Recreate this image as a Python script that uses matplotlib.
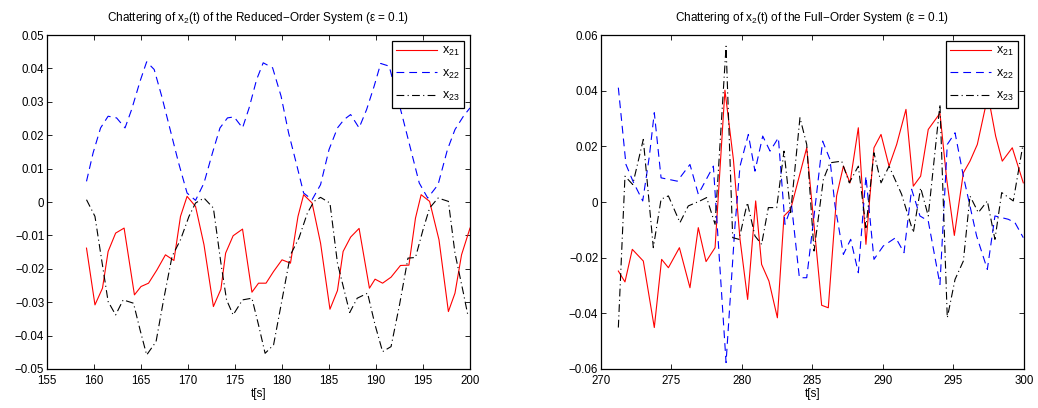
import matplotlib.pyplot as plt

plt.rcParams['font.family'] = ['Liberation Sans', 'DejaVu Sans']
plt.rcParams['mathtext.fontset'] = 'custom'
plt.rcParams['mathtext.rm'] = 'Liberation Sans'
plt.rcParams['mathtext.it'] = 'Liberation Sans'

# ---- reduced-order system (left) ----
red_t1 = [159.2, 160.1, 160.9, 161.5, 162.3, 163.2, 164.3, 165.0, 165.8, 166.7, 167.6, 168.5,
          169.2, 169.9, 170.8, 171.7, 172.7, 173.5, 174.0, 174.8, 175.8, 176.8, 177.5, 178.3,
          179.1, 180.0, 180.9, 181.7, 182.3, 183.2, 184.1, 185.1, 185.9, 186.5, 187.3, 188.2,
          189.3, 189.9, 190.7, 191.6, 192.6, 193.5, 194.2, 194.8, 195.7, 196.7, 197.7, 198.4,
          199.1, 200.0]
red_v1 = [-0.0138, -0.0308, -0.0258, -0.0148, -0.0093, -0.0078, -0.0278, -0.0253, -0.0243,
          -0.0203, -0.0158, -0.0175, -0.0043, 0.0017, -0.0013, -0.0128, -0.0313, -0.0261,
          -0.0153, -0.0101, -0.0081, -0.0270, -0.0243, -0.0243, -0.0208, -0.0173, -0.0183,
          -0.0043, 0.0022, -0.0003, -0.0123, -0.0321, -0.0265, -0.0148, -0.0105, -0.0079,
          -0.0258, -0.0231, -0.0243, -0.0225, -0.0190, -0.0189, -0.0048, 0.0022, 0.0002,
          -0.0113, -0.0328, -0.0273, -0.0158, -0.0078]

blue_t1 = [159.2, 159.9, 160.7, 161.5, 162.4, 163.3, 164.0, 164.9, 165.6, 166.4, 167.2, 168.1,
           169.0, 169.9, 170.8, 171.7, 172.6, 173.4, 174.2, 174.9, 175.8, 176.5, 177.3, 178.0,
           179.0, 179.9, 180.7, 181.6, 182.3, 183.2, 184.1, 185.0, 185.9, 186.6, 187.3, 188.2,
           189.0, 189.8, 190.5, 191.4, 192.8, 193.7, 194.6, 195.5, 196.6, 197.6, 198.4, 199.3,
           200.0]
blue_v1 = [0.0062, 0.0147, 0.0222, 0.0257, 0.0252, 0.0222, 0.0277, 0.0362, 0.0420, 0.0397,
           0.0317, 0.0217, 0.0117, 0.0027, 0.0005, 0.0057, 0.0147, 0.0222, 0.0252, 0.0255,
           0.0222, 0.0282, 0.0367, 0.0417, 0.0402, 0.0317, 0.0207, 0.0107, 0.0027, 0.0007,
           0.0052, 0.0157, 0.0222, 0.0247, 0.0262, 0.0222, 0.0277, 0.0347, 0.0415, 0.0407,
           0.0257, 0.0157, 0.0057, 0.0012, 0.0052, 0.0157, 0.0217, 0.0257, 0.0282]

black_t1 = [159.2, 160.1, 160.7, 161.5, 162.3, 163.1, 164.2, 164.9, 165.6, 166.6, 167.4, 168.3,
            169.2, 170.1, 170.8, 171.7, 172.7, 173.5, 174.1, 174.8, 175.8, 176.8, 177.5, 178.2,
            179.1, 180.0, 180.9, 181.8, 182.7, 183.4, 184.1, 185.1, 185.9, 187.2, 188.0, 189.1,
            189.9, 190.7, 191.6, 192.5, 193.4, 194.2, 195.0, 195.7, 196.6, 197.7, 198.4, 199.3,
            199.8]
black_v1 = [0.0007, -0.0043, -0.0153, -0.0298, -0.0338, -0.0293, -0.0303, -0.0383, -0.0458,
            -0.0418, -0.0293, -0.0163, -0.0113, -0.0043, -0.0003, 0.0012, -0.0018, -0.0183,
            -0.0293, -0.0338, -0.0293, -0.0288, -0.0368, -0.0453, -0.0428, -0.0293, -0.0158,
            -0.0108, -0.0033, 0.0002, 0.0014, -0.0003, -0.0183, -0.0331, -0.0288, -0.0273,
            -0.0368, -0.0448, -0.0433, -0.0308, -0.0168, -0.0166, -0.0083, -0.0018, 0.0012,
            0.0002, -0.0153, -0.0273, -0.0343]

# ---- full-order system (right) ----
red_t2 = [271.23, 271.70, 272.22, 273.00, 273.78, 274.30, 274.78, 275.56, 276.31, 276.90,
          277.45, 278.09, 278.79, 279.39, 279.86, 280.40, 280.97, 281.39, 281.91, 282.51,
          282.98, 283.45, 284.59, 285.65, 286.12, 286.71, 287.19, 287.66, 288.25, 288.79,
          289.36, 289.86, 290.43, 290.97, 291.63, 292.15, 292.67, 293.21, 294.04, 294.52,
          295.06, 295.70, 296.17, 296.69, 297.23, 297.50, 297.99, 298.46, 299.17, 299.95]
red_v2 = [-0.0248, -0.0287, -0.0170, -0.0212, -0.0451, -0.0206, -0.0236, -0.0164, -0.0308,
          -0.0092, -0.0214, -0.0164, 0.0402, 0.0153, -0.0134, -0.0350, 0.0004, -0.0224,
          -0.0284, -0.0416, -0.0050, -0.0026, 0.0195, -0.0371, -0.0380, 0.0022, 0.0129,
          0.0069, 0.0267, -0.0152, 0.0195, 0.0243, 0.0129, 0.0207, 0.0333, 0.0057, 0.0093,
          0.0261, 0.0319, 0.0081, -0.0120, 0.0105, 0.0147, 0.0207, 0.0333, 0.0370, 0.0237,
          0.0147, 0.0195, 0.0069]

blue_t2 = [271.23, 271.77, 272.29, 272.96, 273.43, 273.78, 274.26, 275.41, 276.31, 276.90,
           277.97, 278.87, 279.50, 279.86, 280.45, 280.92, 281.47, 281.99, 282.58, 283.05,
           283.52, 284.07, 284.59, 285.11, 285.72, 286.24, 286.60, 287.19, 287.71, 288.25,
           288.79, 289.36, 290.02, 290.90, 291.49, 292.03, 292.62, 293.21, 294.04, 294.56,
           295.11, 295.70, 296.64, 297.40, 297.94, 298.89, 299.36, 299.95]
blue_v2 = [0.0411, 0.0135, 0.0072, 0.0004, 0.0165, 0.0321, 0.0087, 0.0075, 0.0135, 0.0028,
           0.0129, -0.0577, -0.0086, 0.0129, 0.0243, 0.0111, 0.0237, 0.0183, 0.0231, -0.0080,
           -0.0014, -0.0272, -0.0272, -0.0050, 0.0219, 0.0153, -0.0014, -0.0188, -0.0134,
           -0.0254, 0.0093, -0.0206, -0.0158, -0.0128, -0.0182, 0.0046, -0.0050, -0.0068,
           -0.0296, 0.0207, 0.0249, 0.0093, -0.0122, -0.0242, -0.0050, -0.0062, -0.0074,
           -0.0128]

black_t2 = [271.23, 271.70, 272.25, 273.00, 273.71, 274.26, 274.78, 275.60, 276.19, 277.02,
            277.49, 278.09, 278.87, 279.34, 279.79, 280.38, 280.92, 281.39, 281.87, 282.46,
            282.98, 283.45, 284.11, 284.59, 285.11, 285.77, 286.24, 287.07, 287.61, 288.25,
            288.79, 289.36, 289.86, 290.43, 291.32, 292.15, 292.67, 293.21, 294.04, 294.56,
            295.11, 295.70, 296.17, 296.76, 297.40, 297.94, 298.42, 299.24, 299.91]
black_v2 = [-0.0451, 0.0093, 0.0063, 0.0225, -0.0164, 0.0010, 0.0022, -0.0074, -0.0014,
            0.0004, 0.0016, -0.0080, 0.0560, -0.0128, -0.0134, -0.0002, -0.0122, -0.0152,
            -0.0020, -0.0020, 0.0183, -0.0038, 0.0303, 0.0207, -0.0176, 0.0081, 0.0141,
            0.0147, 0.0069, 0.0129, -0.0092, 0.0177, 0.0069, 0.0129, 0.0028, -0.0110, 0.0051,
            -0.0050, 0.0351, -0.0416, -0.0278, -0.0212, 0.0022, -0.0038, 0.0004, -0.0134,
            0.0034, 0.0004, 0.0201]

left_xticks = list(range(155, 201, 5))
left_yticks = [-0.05, -0.04, -0.03, -0.02, -0.01, 0, 0.01, 0.02, 0.03, 0.04, 0.05]
right_xticks = list(range(270, 301, 5))
right_yticks = [-0.06, -0.04, -0.02, 0, 0.02, 0.04, 0.06]

labels = ['x$_{21}$', 'x$_{22}$', 'x$_{23}$']


def fmt(v):
    if abs(v) < 1e-12:
        return '0'
    s = ('%.2f' % v).rstrip('0')
    return s.replace('-', '\u2212')


def draw(ax, series, title, xlim, ylim, xticks, yticks):
    (rt, rv), (bt, bv), (kt, kv) = series
    ax.plot(rt, rv, color='#ff0000', lw=0.8, label=labels[0])
    ax.plot(bt, bv, color='#0000ff', lw=0.8, dashes=(7, 4.5), label=labels[1])
    ax.plot(kt, kv, color='black', lw=0.8, dashes=(7, 3, 1, 3), label=labels[2])
    ax.set_xlim(*xlim)
    ax.set_ylim(*ylim)
    ax.set_xticks(xticks)
    ax.set_xticklabels([str(x) for x in xticks])
    ax.set_yticks(yticks)
    ax.set_yticklabels([fmt(y) for y in yticks])
    ax.tick_params(direction='in', top=True, right=True, length=3.5, width=0.6,
                   labelsize=8.3)
    ax.tick_params(axis='x', pad=4)
    ax.tick_params(axis='y', pad=2)
    for sp in ax.spines.values():
        sp.set_linewidth(0.9)
    ax.set_title(title, fontsize=8.5, pad=10)
    ax.set_xlabel('t[s]', fontsize=8.5, labelpad=1)
    leg = ax.legend(loc='upper right', fontsize=9, fancybox=False, framealpha=1,
                    edgecolor='black', borderaxespad=0.45, handlelength=3.3,
                    labelspacing=0.75, handletextpad=0.4, borderpad=0.35)
    leg.get_frame().set_linewidth(0.9)


fig = plt.figure(figsize=(10.38, 4.08), dpi=100)
ax1 = fig.add_axes([0.0453, 0.0956, 0.4075, 0.8184])
ax2 = fig.add_axes([0.5790, 0.0956, 0.4075, 0.8184])

draw(ax1, [(red_t1, red_v1), (blue_t1, blue_v1), (black_t1, black_v1)],
     'Chattering of x$_2$(t) of the Reduced\u2212Order System (\u03b5 = 0.1)',
     (155, 200), (-0.05, 0.05), left_xticks, left_yticks)
draw(ax2, [(red_t2, red_v2), (blue_t2, blue_v2), (black_t2, black_v2)],
     'Chattering of x$_2$(t) of the Full\u2212Order System (\u03b5 = 0.1)',
     (270, 300), (-0.06, 0.06), right_xticks, right_yticks)

fig.savefig('out.png', dpi=100)
